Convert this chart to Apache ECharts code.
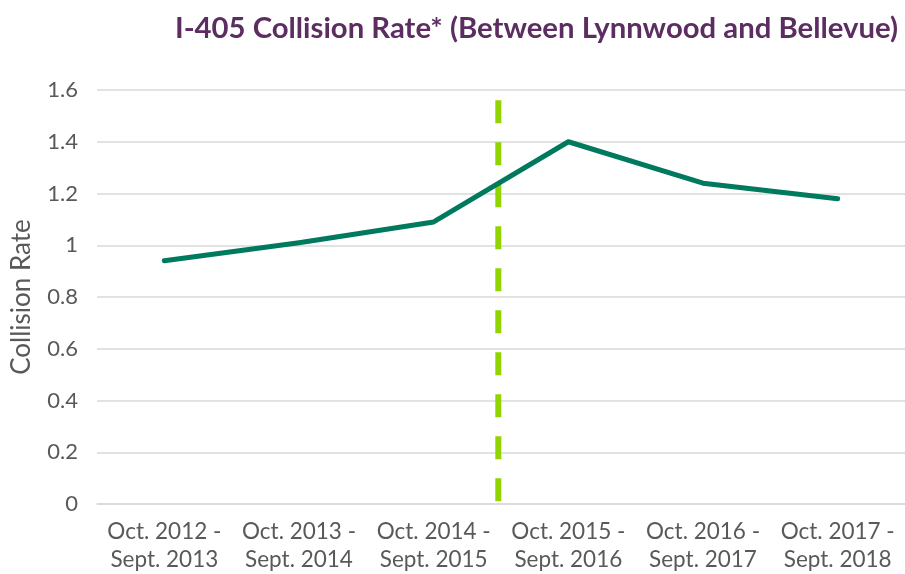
<!DOCTYPE html>
<html>
<head>
<meta charset="utf-8">
<script src="https://cdn.jsdelivr.net/npm/echarts@6/dist/echarts.min.js"></script>
<style>
  html, body { margin: 0; padding: 0; background: #fff; }
  #chart { width: 905px; height: 574px; }
</style>
</head>
<body>
<div id="chart"></div>
<script>
// categories and values
const periods = [
  'Oct. 2012 -\nSept. 2013',
  'Oct. 2013 -\nSept. 2014',
  'Oct. 2014 -\nSept. 2015',
  'Oct. 2015 -\nSept. 2016',
  'Oct. 2016 -\nSept. 2017',
  'Oct. 2017 -\nSept. 2018'
];
const collisionRate = [0.94, 1.01, 1.09, 1.40, 1.24, 1.18];
// dashed divider between 2014-15 and 2015-16 (band units, 0..6)
const dividerX = 2.98;
const dividerTop = 1.56;

const chart = echarts.init(document.getElementById('chart'));

const font = 'Lato, "Open Sans", sans-serif';

chart.setOption({
  animation: false,
  title: {
    text: 'I-405 Collision Rate* (Between Lynnwood and Bellevue)',
    right: 2,
    top: 9,
    textStyle: {
      fontFamily: font,
      fontWeight: 'bold',
      fontSize: 29.3,
      color: '#5c2d61'
    }
  },
  grid: {
    left: 97,
    right: 0,
    top: 90,
    bottom: 70,
    outerBoundsMode: 'none',
    containLabel: false
  },
  xAxis: [{
    type: 'category',
    data: periods,
    axisLine: { lineStyle: { color: '#d9d9d9', width: 1.5 } },
    axisTick: { show: false },
    axisLabel: {
      fontFamily: font,
      fontSize: 22.5,
      color: '#595959',
      lineHeight: 28,
      margin: 14,
      interval: 0
    }
  }, {
    type: 'value',
    min: 0,
    max: 6,
    show: false
  }],
  yAxis: {
    type: 'value',
    min: 0,
    max: 1.6,
    interval: 0.2,
    name: 'Collision Rate',
    nameLocation: 'middle',
    nameGap: 62,
    nameTextStyle: {
      fontFamily: font,
      fontSize: 26,
      color: '#595959'
    },
    axisLine: { show: false },
    axisTick: { show: false },
    splitLine: { lineStyle: { color: '#d9d9d9', width: 1.5 } },
    axisLabel: {
      fontFamily: font,
      fontSize: 22,
      color: '#595959',
      margin: 19,
      formatter: v => String(Math.round(v * 10) / 10)
    }
  },
  series: [{
    type: 'line',
    xAxisIndex: 1,
    data: [[dividerX, dividerTop], [dividerX, 0]],
    symbol: 'none',
    z: 1,
    lineStyle: {
      color: '#92d400',
      width: 6,
      type: [23, 19],
      cap: 'butt'
    }
  }, {
    type: 'line',
    data: collisionRate,
    symbol: 'none',
    z: 2,
    lineStyle: {
      color: '#007a5e',
      width: 5,
      cap: 'round',
      join: 'round'
    }
  }]
});
</script>
</body>
</html>
